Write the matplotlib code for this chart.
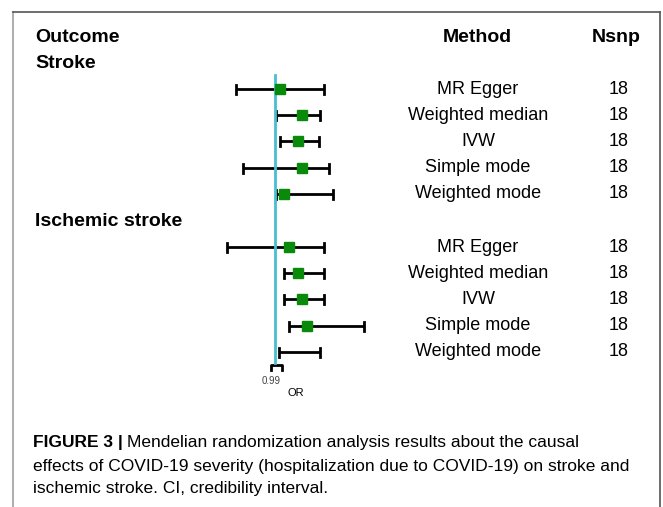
import numpy as np
import matplotlib
matplotlib.use("Agg")
import matplotlib.pyplot as plt

# ---- data (odds ratios) ----
outcomes = ["Stroke", "Ischemic stroke"]
methods = ["MR Egger", "Weighted median", "IVW", "Simple mode", "Weighted mode"]
nsnp = [18, 18, 18, 18, 18]

stroke_or = [1.005, 1.027, 1.023, 1.027, 1.009]
stroke_lo = [0.961, 1.001, 1.005, 0.968, 1.001]
stroke_hi = [1.049, 1.045, 1.044, 1.054, 1.058]

isch_or = [1.014, 1.023, 1.027, 1.032, np.nan]
isch_lo = [0.952, 1.009, 1.009, 1.014, 1.004]
isch_hi = [1.049, 1.049, 1.049, 1.089, 1.045]

ref_or = 1.0
tick_lo, tick_hi = 0.996, 1.007
tick_label = "0.99"

caption_bold = "FIGURE 3 |"
caption = [
    "Mendelian randomization analysis results about the causal",
    "effects of COVID-19 severity (hospitalization due to COVID-19) on stroke and",
    "ischemic stroke. CI, credibility interval.",
]

W, H = 663, 507
fig = plt.figure(figsize=(W / 100, H / 100), dpi=100)
fig.patch.set_facecolor("white")

# one axes over the whole figure: x in OR units, y in pixel rows
ax = fig.add_axes([0, 0, 1, 1])
px_per_unit = 1000.0
x0 = ref_or - 275 / px_per_unit
ax.set_xlim(x0, x0 + W / px_per_unit)
ax.set_ylim(H, 0)
ax.axis("off")


def fx(px):
    return px / W


def fy(py):
    return 1 - py / H


# frame around figure
ax.plot([fx(13), fx(13)], [fy(12), fy(507)], transform=fig.transFigure, color="#b0b0b0", lw=1.5)
ax.plot([fx(13), fx(660)], [fy(12), fy(12)], transform=fig.transFigure, color="#555555", lw=1.2)
ax.plot([fx(660), fx(660)], [fy(12), fy(507)], transform=fig.transFigure, color="#555555", lw=1.2)

font = "Liberation Sans"
fig.text(fx(35), fy(37), "Outcome", fontsize=14, fontweight="bold", family=font, va="center")
fig.text(fx(35), fy(63), outcomes[0], fontsize=14, fontweight="bold", family=font, va="center")
fig.text(fx(35), fy(221), outcomes[1], fontsize=14, fontweight="bold", family=font, va="center")
fig.text(fx(477), fy(37), "Method", fontsize=14, fontweight="bold", family=font, va="center", ha="center")
fig.text(fx(616), fy(37), "Nsnp", fontsize=14, fontweight="bold", family=font, va="center", ha="center")

rows1 = [89, 115, 141, 168, 194]
rows2 = [247, 273, 299, 326, 352]

groups = [(rows1, stroke_or, stroke_lo, stroke_hi), (rows2, isch_or, isch_lo, isch_hi)]
for rows, est, lo, hi in groups:
    for y, m, n, e, l, h in zip(rows, methods, nsnp, est, lo, hi):
        ax.plot([l, h], [y, y], color="black", lw=2, solid_capstyle="butt", zorder=2)
        for xc in (l, h):
            ax.plot([xc, xc], [y - 4.5, y + 4.5], color="black", lw=2, zorder=2)
        if not np.isnan(e):
            ax.plot(e, y, marker="s", ms=6.5, color="#0a8a0a", mec="#0a8a0a", zorder=4)
        fig.text(fx(478), fy(y), m, fontsize=13, family=font, va="center", ha="center")
        fig.text(fx(619), fy(y), str(n), fontsize=13, family=font, va="center", ha="center")

# reference line
ax.plot([ref_or, ref_or], [75, 363], color="#45c0d0", lw=2, zorder=3)

# tiny x axis
ax.plot([tick_lo, tick_lo, tick_hi, tick_hi], [370, 365, 365, 370], color="black", lw=2)
ax.text(tick_lo, 381, tick_label, fontsize=7, family=font, ha="center", va="center", color="#444444")
ax.text(1.021, 393, "OR", fontsize=8, family=font, ha="center", va="center")

# caption: fit the font size so the second line spans the same width as in the figure
fig.canvas.draw()
r = fig.canvas.get_renderer()
probe = fig.text(0, 0, caption[1], fontsize=12, family=font)
w12 = probe.get_window_extent(r).width
probe.remove()
cs = 12 * 597 / w12

t = fig.text(fx(33), fy(443), caption_bold, fontsize=cs, fontweight="bold", family=font, va="center")
bb = t.get_window_extent(r)
fig.text((bb.x1 + 4) / W, fy(443), caption[0], fontsize=cs, family=font, va="center")
fig.text(fx(33), fy(466), caption[1], fontsize=cs, family=font, va="center")
fig.text(fx(33), fy(489), caption[2], fontsize=cs, family=font, va="center")

fig.savefig("out.png", dpi=100, facecolor="white")
